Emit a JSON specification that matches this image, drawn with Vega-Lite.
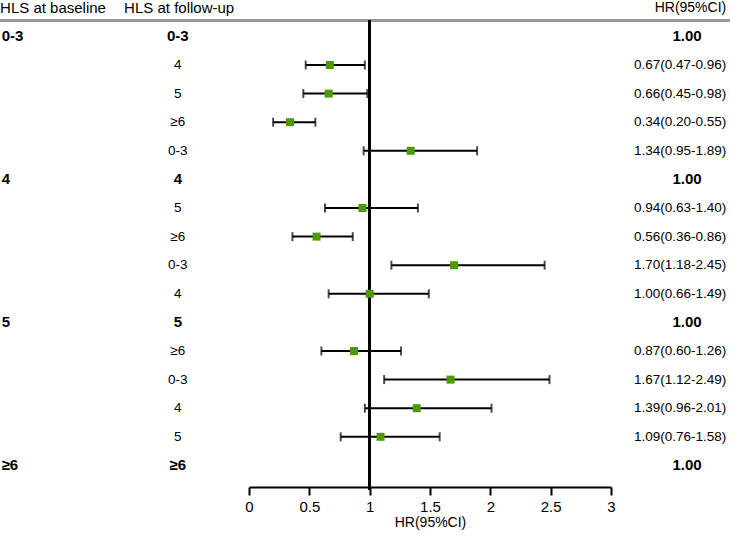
{
  "$schema": "https://vega.github.io/schema/vega-lite/v6.json",
  "width": 730,
  "height": 487,
  "autosize": {"type": "none"},
  "padding": {"left": 0, "top": 0, "right": 0, "bottom": 51},
  "background": "white",
  "config": {
    "view": {"stroke": null},
    "font": "Liberation Sans",
    "text": {"font": "Liberation Sans", "color": "black", "baseline": "middle"},
    "axisX": {
      "grid": false, "domainColor": "black", "domainWidth": 2,
      "tickColor": "black", "tickWidth": 2, "tickSize": 8,
      "labelFontSize": 15, "labelColor": "black", "labelPadding": 4, "labelFlush": false,
      "titleFontSize": 14, "titleFontWeight": "normal", "titleColor": "black", "titlePadding": 1,
      "labelFont": "Liberation Sans", "titleFont": "Liberation Sans"
    }
  },
  "datasets": {
    "rows": [
      {"row": 1, "base": "0-3", "follow": "0-3", "ref": true, "hr": "1.00"},
      {"row": 2, "base": "", "follow": "4", "ref": false, "hr": "0.67(0.47-0.96)", "est": 0.67, "lo": 0.47, "hi": 0.96},
      {"row": 3, "base": "", "follow": "5", "ref": false, "hr": "0.66(0.45-0.98)", "est": 0.66, "lo": 0.45, "hi": 0.98},
      {"row": 4, "base": "", "follow": "≥6", "ref": false, "hr": "0.34(0.20-0.55)", "est": 0.34, "lo": 0.20, "hi": 0.55},
      {"row": 5, "base": "", "follow": "0-3", "ref": false, "hr": "1.34(0.95-1.89)", "est": 1.34, "lo": 0.95, "hi": 1.89},
      {"row": 6, "base": "4", "follow": "4", "ref": true, "hr": "1.00"},
      {"row": 7, "base": "", "follow": "5", "ref": false, "hr": "0.94(0.63-1.40)", "est": 0.94, "lo": 0.63, "hi": 1.40},
      {"row": 8, "base": "", "follow": "≥6", "ref": false, "hr": "0.56(0.36-0.86)", "est": 0.56, "lo": 0.36, "hi": 0.86},
      {"row": 9, "base": "", "follow": "0-3", "ref": false, "hr": "1.70(1.18-2.45)", "est": 1.70, "lo": 1.18, "hi": 2.45},
      {"row": 10, "base": "", "follow": "4", "ref": false, "hr": "1.00(0.66-1.49)", "est": 1.00, "lo": 0.66, "hi": 1.49},
      {"row": 11, "base": "5", "follow": "5", "ref": true, "hr": "1.00"},
      {"row": 12, "base": "", "follow": "≥6", "ref": false, "hr": "0.87(0.60-1.26)", "est": 0.87, "lo": 0.60, "hi": 1.26},
      {"row": 13, "base": "", "follow": "0-3", "ref": false, "hr": "1.67(1.12-2.49)", "est": 1.67, "lo": 1.12, "hi": 2.49},
      {"row": 14, "base": "", "follow": "4", "ref": false, "hr": "1.39(0.96-2.01)", "est": 1.39, "lo": 0.96, "hi": 2.01},
      {"row": 15, "base": "", "follow": "5", "ref": false, "hr": "1.09(0.76-1.58)", "est": 1.09, "lo": 0.76, "hi": 1.58},
      {"row": 16, "base": "≥6", "follow": "≥6", "ref": true, "hr": "1.00"}
    ]
  },
  "data": {"name": "rows"},
  "layer": [
    {
      "transform": [{"filter": "datum.ref == false"}],
      "mark": {"type": "rule", "color": "black", "strokeWidth": 2},
      "encoding": {
        "x": {
          "field": "lo", "type": "quantitative",
          "scale": {"domain": [0, 3], "range": [249, 611], "nice": false, "zero": false},
          "axis": {"title": "HR(95%CI)", "values": [0, 0.5, 1, 1.5, 2, 2.5, 3], "format": "~g"}
        },
        "x2": {"field": "hi"},
        "y": {"field": "row", "type": "quantitative", "scale": {"domain": [0, 16.755], "range": [7.8, 487], "nice": false, "zero": false}, "axis": null}
      }
    },
    {
      "transform": [{"filter": "datum.ref == false"}],
      "mark": {"type": "tick", "orient": "vertical", "color": "black", "thickness": 2, "size": 9},
      "encoding": {
        "x": {"field": "lo", "type": "quantitative"},
        "y": {"field": "row", "type": "quantitative", "axis": null}
      }
    },
    {
      "transform": [{"filter": "datum.ref == false"}],
      "mark": {"type": "tick", "orient": "vertical", "color": "black", "thickness": 2, "size": 9},
      "encoding": {
        "x": {"field": "hi", "type": "quantitative"},
        "y": {"field": "row", "type": "quantitative", "axis": null}
      }
    },
    {
      "mark": {"type": "rule", "color": "#999999", "strokeWidth": 2},
      "encoding": {
        "y": {"datum": 0.45, "type": "quantitative", "axis": null}
      }
    },
    {
      "mark": {"type": "rule", "color": "black", "strokeWidth": 2},
      "encoding": {
        "x": {"datum": 1, "type": "quantitative"},
        "y": {"datum": 0.45, "type": "quantitative", "axis": null},
        "y2": {"datum": 16.85}
      }
    },
    {
      "transform": [{"filter": "datum.ref == false"}],
      "mark": {"type": "square", "color": "#4e9a06", "opacity": 1, "size": 64, "filled": true},
      "encoding": {
        "x": {"field": "est", "type": "quantitative"},
        "y": {"field": "row", "type": "quantitative", "axis": null}
      }
    },
    {
      "transform": [{"filter": "datum.base != ''"}],
      "mark": {"type": "text", "align": "left", "fontWeight": "bold", "fontSize": 15},
      "encoding": {
        "x": {"datum": -2.05, "type": "quantitative"},
        "y": {"field": "row", "type": "quantitative", "axis": null},
        "text": {"field": "base"}
      }
    },
    {
      "transform": [{"filter": "datum.ref == true"}],
      "mark": {"type": "text", "align": "center", "fontWeight": "bold", "fontSize": 15},
      "encoding": {
        "x": {"datum": -0.59, "type": "quantitative"},
        "y": {"field": "row", "type": "quantitative", "axis": null},
        "text": {"field": "follow"}
      }
    },
    {
      "transform": [{"filter": "datum.ref == false"}],
      "mark": {"type": "text", "align": "center", "fontSize": 13.5},
      "encoding": {
        "x": {"datum": -0.59, "type": "quantitative"},
        "y": {"field": "row", "type": "quantitative", "axis": null},
        "text": {"field": "follow"}
      }
    },
    {
      "transform": [{"filter": "datum.ref == true"}],
      "mark": {"type": "text", "align": "center", "fontWeight": "bold", "fontSize": 15},
      "encoding": {
        "x": {"datum": 3.63, "type": "quantitative"},
        "y": {"field": "row", "type": "quantitative", "axis": null},
        "text": {"field": "hr"}
      }
    },
    {
      "transform": [{"filter": "datum.ref == false"}],
      "mark": {"type": "text", "align": "right", "fontSize": 13.5},
      "encoding": {
        "x": {"datum": 3.955, "type": "quantitative"},
        "y": {"field": "row", "type": "quantitative", "axis": null},
        "text": {"field": "hr"}
      }
    },
    {
      "data": {"values": [{"h": "HLS at baseline"}]},
      "mark": {"type": "text", "align": "left", "fontSize": 15},
      "encoding": {
        "x": {"datum": -2.063, "type": "quantitative"},
        "y": {"datum": 0, "type": "quantitative", "axis": null},
        "text": {"field": "h"}
      }
    },
    {
      "data": {"values": [{"h": "HLS at follow-up"}]},
      "mark": {"type": "text", "align": "left", "fontSize": 15},
      "encoding": {
        "x": {"datum": -1.035, "type": "quantitative"},
        "y": {"datum": 0, "type": "quantitative", "axis": null},
        "text": {"field": "h"}
      }
    },
    {
      "data": {"values": [{"h": "HR(95%CI)"}]},
      "mark": {"type": "text", "align": "right", "fontSize": 14},
      "encoding": {
        "x": {"datum": 3.955, "type": "quantitative"},
        "y": {"datum": 0, "type": "quantitative", "axis": null},
        "text": {"field": "h"}
      }
    }
  ]
}
